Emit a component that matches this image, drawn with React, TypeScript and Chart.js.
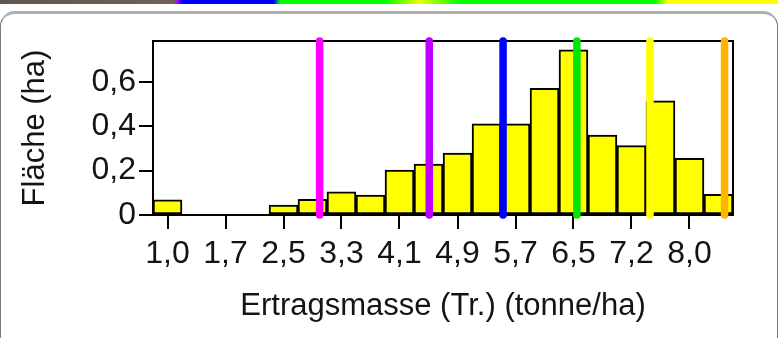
import React, { useEffect, useRef } from "react";
import { Chart, registerables } from "chart.js";

Chart.register(...registerables);

// Bin centres of the yield histogram (tonne/ha)
const binCenters = [
  1.0, 1.389, 1.778, 2.167, 2.556, 2.944, 3.333, 3.722, 4.111, 4.5,
  4.889, 5.278, 5.667, 6.056, 6.444, 6.833, 7.222, 7.611, 8.0, 8.389,
];
// Area per bin (ha)
const areaHa = [
  0.068, 0, 0, 0, 0.045, 0.071, 0.105, 0.09, 0.203, 0.23,
  0.279, 0.411, 0.411, 0.572, 0.745, 0.361, 0.313, 0.515, 0.256, 0.093,
];
// X tick positions and their labels
const xTickValues = [1.0, 1.778, 2.556, 3.333, 4.111, 4.889, 5.667, 6.444, 7.222, 8.0];
const xTickLabels = ["1,0", "1,7", "2,5", "3,3", "4,1", "4,9", "5,7", "6,5", "7,2", "8,0"];
// Y ticks
const yTickValues = [0, 0.2, 0.4, 0.6];
const yTickLabels = ["0", "0,2", "0,4", "0,6"];
// Vertical class-break markers
const markerValues = [3.04, 4.51, 5.5, 6.49, 7.47, 8.47];
const markerColors = ["#ff00ff", "#bb00ff", "#0000ff", "#00e600", "#ffff00", "#ffb400"];

const X_MIN = 0.8055;
const X_MAX = 8.5835;
const Y_MAX = 0.785;

const FONT = "'Liberation Sans', Arial, sans-serif";
const TEXT = "#141414";

const framePlugin = {
  id: "frame",
  beforeDatasetsDraw(chart: any) {
    const { ctx, chartArea } = chart;
    ctx.save();
    ctx.strokeStyle = "#000";
    ctx.lineWidth = 2;
    ctx.strokeRect(chartArea.left, chartArea.top, chartArea.right - chartArea.left, chartArea.bottom - chartArea.top);
    ctx.restore();
  },
};

export default function App() {
  const ref = useRef<HTMLCanvasElement | null>(null);

  useEffect(() => {
    if (!ref.current) return;
    const barData = binCenters.map((x, i) => ({ x, y: areaHa[i] }));
    const markerSets = markerValues.map((v, i) => ({
      type: "line" as const,
      data: [
        { x: v, y: 0 },
        { x: v, y: Y_MAX },
      ],
      borderColor: markerColors[i],
      borderWidth: 7.5,
      borderCapStyle: "round" as const,
      pointRadius: 0,
      fill: false,
      clip: false,
      order: 0,
    }));
    const chart = new Chart(ref.current, {
      type: "bar",
      data: {
        datasets: [
          ...markerSets,
          {
            type: "bar",
            data: barData,
            backgroundColor: "#ffff00",
            borderColor: "#000",
            borderWidth: 2,
            borderSkipped: false,
            barPercentage: 1,
            categoryPercentage: 1,
            order: 10,
          },
        ] as any,
      },
      options: {
        animation: false,
        responsive: false,
        maintainAspectRatio: false,
        layout: { padding: { left: 0, right: 45, top: 41, bottom: 0 } },
        plugins: { legend: { display: false }, tooltip: { enabled: false } },
        scales: {
          x: {
            type: "linear",
            min: X_MIN,
            max: X_MAX,
            offset: false,
            afterBuildTicks: (s: any) => {
              s.ticks = xTickValues.map((v) => ({ value: v }));
            },
            afterFit: (s: any) => {
              s.height = 123;
            },
            ticks: {
              autoSkip: false,
              maxRotation: 0,
              color: TEXT,
              padding: 6,
              font: { family: FONT, size: 32 },
              callback: (v: any) => xTickLabels[xTickValues.indexOf(v)] ?? "",
            },
            grid: {
              display: true,
              offset: false,
              drawOnChartArea: false,
              drawTicks: true,
              tickLength: 14,
              color: "#000",
              lineWidth: 2,
            },
            border: { display: true, color: "#000", width: 2 },
            title: {
              display: true,
              text: "Ertragsmasse (Tr.) (tonne/ha)",
              color: TEXT,
              font: { family: FONT, size: 31 },
              padding: { top: 0, bottom: 13 },
            },
          },
          y: {
            type: "linear",
            min: 0,
            max: Y_MAX,
            afterBuildTicks: (s: any) => {
              s.ticks = yTickValues.map((v) => ({ value: v }));
            },
            afterFit: (s: any) => {
              s.width = 153;
            },
            ticks: {
              color: TEXT,
              padding: 3,
              font: { family: FONT, size: 32 },
              callback: (v: any) => yTickLabels[yTickValues.indexOf(v)] ?? "",
            },
            grid: {
              display: true,
              drawOnChartArea: false,
              drawTicks: true,
              tickLength: 14,
              color: "#000",
              lineWidth: 2,
            },
            border: { display: true, color: "#000", width: 2 },
            title: {
              display: true,
              text: "Fläche (ha)",
              color: TEXT,
              font: { family: FONT, size: 31 },
              padding: { top: 17, bottom: 0 },
            },
          },
        },
      } as any,
      plugins: [framePlugin],
    });
    return () => chart.destroy();
  }, []);

  return (
    <div style={{ position: "fixed", left: 0, top: 0, width: 778, height: 338, background: "#fff", overflow: "hidden" }}>
      <div
        style={{
          position: "absolute",
          left: 0,
          top: 0,
          width: 778,
          height: 4,
          background:
            "linear-gradient(to right, #5e5650 0px, #6e6258 174px, #a000ff 178px, #0000ff 182px, #0000ff 274px, #00ff00 280px, #00ff00 385px, #eaff00 420px, #00ff00 460px, #00ff00 655px, #ffff00 668px, #ffff00 778px)",
        }}
      />
      <div
        style={{
          position: "absolute",
          left: 0,
          top: 11,
          width: 778,
          height: 340,
          boxSizing: "border-box",
          border: "1px solid #7a7a7a",
          borderTop: "3px solid #b0b0b0",
          borderRadius: 15,
        }}
      />
      <canvas ref={ref} width={778} height={338} style={{ position: "absolute", left: 0, top: 0, width: 778, height: 338 }} />
    </div>
  );
}
